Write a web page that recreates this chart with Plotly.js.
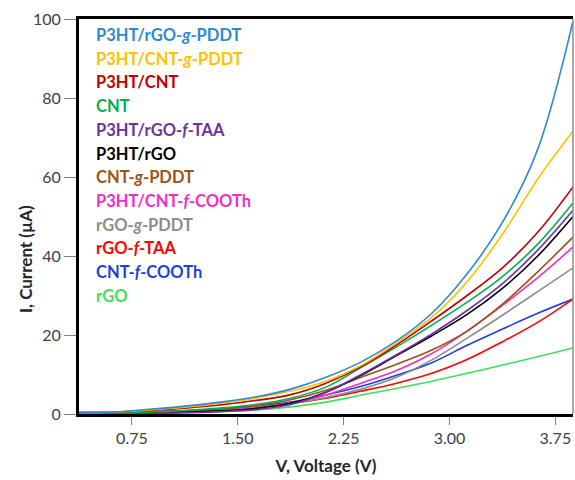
<!DOCTYPE html>
<html>
<head>
<meta charset="utf-8">
<script src="https://cdn.plot.ly/plotly-3.0.1.min.js"></script>
<style>html,body{margin:0;padding:0;background:#fff;}#chart{width:575px;height:480px;}</style>
</head>
<body>
<div id="chart"></div>
<script>
// Voltage grid (V)
const voltage = [0.375, 0.625, 0.875, 1.125, 1.375, 1.625, 1.875, 2.125, 2.375, 2.625, 2.875, 3.125, 3.375, 3.625, 3.875];

// Series names (legend labels, HTML for italics)
const seriesNames = [
  "P3HT/rGO-<i>g</i>-PDDT",
  "P3HT/CNT-<i>g</i>-PDDT",
  "P3HT/CNT",
  "CNT",
  "P3HT/rGO-<i>f</i>-TAA",
  "P3HT/rGO",
  "CNT-<i>g</i>-PDDT",
  "P3HT/CNT-<i>f</i>-COOTh",
  "rGO-<i>g</i>-PDDT",
  "rGO-<i>f</i>-TAA",
  "CNT-<i>f</i>-COOTh",
  "rGO"
];

const seriesColors = [
  "#2e89d1", "#ffc000", "#c00000", "#00b050", "#7030a0", "#000000",
  "#9c5215", "#ee2fc2", "#8c8c8c", "#ff0000", "#1f3fd6", "#3de05a"
];

// Current (µA) for each series
const iP3HT_rGO_gPDDT = [0.3, 0.5, 1.2, 2.0, 3.0, 4.3, 6.3, 9.3, 13.2, 18.5, 25.5, 35.5, 48.5, 67.0, 99.5];
const iP3HT_CNT_gPDDT = [0.3, 0.5, 1.0, 1.7, 2.7, 4.0, 5.8, 8.3, 12.3, 18.0, 24.5, 33.5, 45.5, 59.5, 71.6];
const iP3HT_CNT       = [0.4, 0.5, 0.9, 1.5, 2.3, 3.4, 4.9, 7.8, 12.0, 17.5, 23.6, 30.0, 37.0, 46.0, 57.5];
const iCNT            = [0.2, 0.3, 0.5, 0.9, 1.5, 2.4, 4.0, 6.8, 11.8, 17.0, 22.5, 28.3, 34.8, 43.0, 53.4];
const iP3HT_rGO_fTAA  = [0.0, 0.1, 0.2, 0.3, 0.6, 1.1, 2.4, 5.5, 10.0, 15.0, 20.3, 26.2, 33.0, 41.5, 51.6];
const iP3HT_rGO       = [0.1, 0.2, 0.3, 0.5, 0.8, 1.4, 2.7, 5.5, 9.8, 14.8, 19.8, 25.2, 31.8, 40.0, 50.0];
const iCNT_gPDDT      = [0.1, 0.2, 0.4, 0.7, 1.2, 2.1, 3.6, 6.0, 9.3, 12.6, 16.2, 21.0, 27.8, 36.0, 44.8];
const iP3HT_CNT_fCOOTh= [0.1, 0.1, 0.2, 0.4, 0.8, 1.5, 2.8, 4.8, 7.8, 11.0, 15.3, 21.0, 27.5, 34.5, 42.3];
const irGO_gPDDT      = [0.1, 0.2, 0.3, 0.6, 1.0, 1.7, 2.7, 4.2, 6.3, 9.3, 13.7, 19.2, 25.0, 31.0, 37.0];
const irGO_fTAA       = [0.3, 0.4, 0.5, 0.8, 1.2, 1.8, 2.7, 4.0, 5.8, 7.8, 10.3, 13.8, 18.3, 23.2, 29.1];
const iCNT_fCOOTh     = [0.2, 0.3, 0.5, 0.8, 1.3, 2.0, 3.0, 4.8, 7.0, 9.8, 13.0, 17.4, 21.5, 25.5, 29.1];
const irGO            = [0.1, 0.1, 0.2, 0.4, 0.6, 1.0, 1.8, 3.0, 4.8, 6.5, 8.3, 10.3, 12.4, 14.5, 16.7];

const seriesValues = [
  iP3HT_rGO_gPDDT, iP3HT_CNT_gPDDT, iP3HT_CNT, iCNT, iP3HT_rGO_fTAA, iP3HT_rGO,
  iCNT_gPDDT, iP3HT_CNT_fCOOTh, irGO_gPDDT, irGO_fTAA, iCNT_fCOOTh, irGO
];

const FONT = "Lato, 'Liberation Sans', sans-serif";

// draw bottom series first so top ones appear above
const traces = [];
for (let k = seriesValues.length - 1; k >= 0; k--) {
  traces.push({
    x: voltage, y: seriesValues[k], type: "scatter", mode: "lines",
    name: seriesNames[k],
    line: {color: seriesColors[k], width: 1.6, shape: "spline", smoothing: 1},
    showlegend: false, hoverinfo: "skip"
  });
}

const W = 575, H = 480, mL = 79, mR = 2, mT = 19, mB = 66;
const plotH = H - mT - mB;
const annotations = seriesNames.map((n, i) => ({
  xref: "paper", yref: "paper",
  x: 15 / (W - mL - mR), y: 1 - (16 + i * 23.7) / plotH,
  xanchor: "left", yanchor: "middle", showarrow: false,
  text: "<b>" + n + "</b>",
  font: {family: FONT, size: 16.5, color: seriesColors[i]}
}));
annotations.push({
  xref: "paper", yref: "paper", x: (25 - mL) / (W - mL - mR), y: (H - mB - 259) / plotH,
  xanchor: "center", yanchor: "middle", showarrow: false, textangle: -90,
  text: "<b>I, Current (µA)</b>", font: {family: FONT, size: 17, color: "#262626"}
});

const layout = {
  width: W, height: H,
  margin: {l: mL, r: mR, t: mT, b: mB},
  paper_bgcolor: "#ffffff", plot_bgcolor: "#ffffff",
  font: {family: FONT, size: 16, color: "#404040"},
  xaxis: {
    range: [0.375, 3.875], tick0: 0.75, dtick: 0.75, tickformat: ".2f",
    showgrid: false, zeroline: false,
    showline: true, linecolor: "#000000", linewidth: 3, mirror: true,
    ticks: "outside", ticklen: 8, tickwidth: 1, tickcolor: "#808080",
    tickfont: {family: FONT, size: 16, color: "#404040"},
    title: {text: "<b>V, Voltage (V)</b>", font: {family: FONT, size: 17, color: "#262626"}, standoff: 14}
  },
  yaxis: {
    range: [0, 100], tick0: 0, dtick: 20,
    showgrid: false, zeroline: false,
    showline: true, linecolor: "#000000", linewidth: 3,
    ticks: "outside", ticklen: 12, tickwidth: 1, tickcolor: "#808080",
    tickfont: {family: FONT, size: 16, color: "#404040"}
  },
  shapes: [{
    type: "line", xref: "paper", yref: "paper", x0: 1, x1: 1, y0: 0, y1: 1,
    line: {color: "#8c8c8c", width: 1.5}
  }],
  annotations: annotations,
  showlegend: false
};

Plotly.newPlot("chart", traces, layout, {staticPlot: true, displayModeBar: false});
</script>
</body>
</html>
